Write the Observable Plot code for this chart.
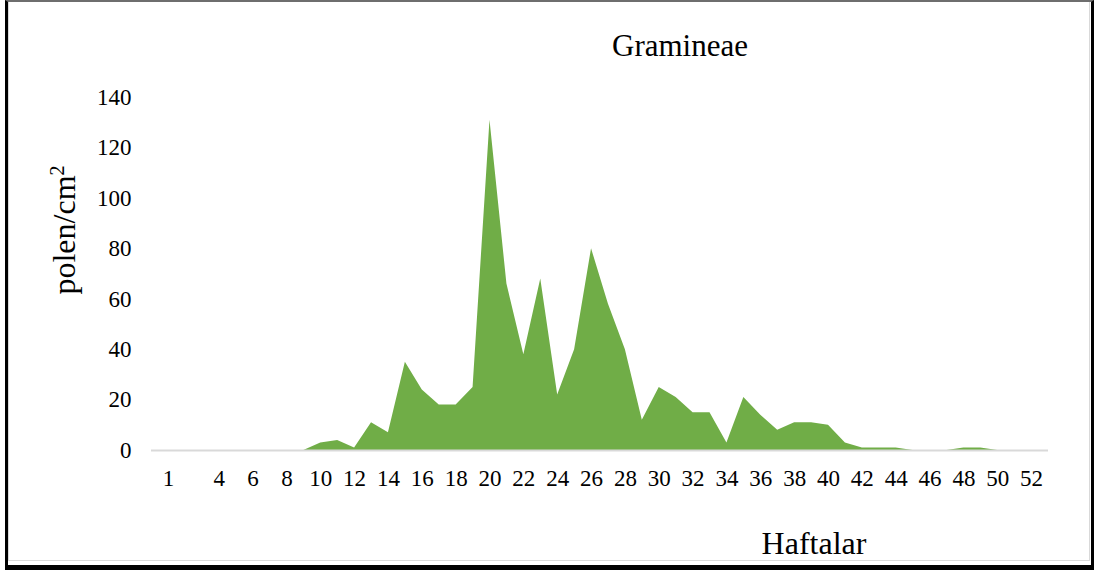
<!DOCTYPE html>
<html>
<head>
<meta charset="utf-8">
<script src="https://cdn.jsdelivr.net/npm/d3@7"></script>
<script src="https://cdn.jsdelivr.net/npm/@observablehq/plot@0.6"></script>
<style>
  body { margin: 0; background: #fff; width: 1094px; height: 572px; position: relative; overflow: hidden;
         font-family: "Liberation Serif", "DejaVu Serif", serif; color: #000; }
  #chart { position: absolute; left: 0; top: 0; }
  .frame { position: absolute; left: 5px; top: 0; width: 1089px; height: 570px; box-sizing: border-box;
           border-top: 2px solid #6e6e6e; border-left: 3px solid #000; border-right: 3px solid #000;
           border-bottom: 5px solid #000; pointer-events: none; z-index: 2; }
  .frame .inner { position: absolute; left: 0; top: 0; right: 1px; bottom: 4px;
                  border: 1px solid #d9d9d9; border-top: none; }
  .lbl { position: absolute; white-space: nowrap; line-height: 1; z-index: 3; }
  #title { left: 680px; top: 30px; font-size: 31px; transform: translateX(-50%); }
  #xlabel { left: 814px; top: 527px; font-size: 32px; transform: translateX(-50%); }
  #ylabel { left: 64px; top: 230px; font-size: 32px; transform: translate(-50%, -50%) rotate(-90deg); }
  #ylabel sup { font-size: 20px; vertical-align: 0.55em; line-height: 0; }
</style>
</head>
<body>
<div id="chart"></div>
<div class="frame"><div class="inner"></div></div>
<div class="lbl" id="title">Gramineae</div>
<div class="lbl" id="ylabel">polen/cm<sup>2</sup></div>
<div class="lbl" id="xlabel">Haftalar</div>
<script>
// Weekly Gramineae pollen counts (polen/cm²)
const weeks = [1, 2, 3, 4, 5, 6, 7, 8, 9, 10, 11, 12, 13, 14, 15, 16, 17, 18, 19, 20, 21, 22, 23, 24, 25, 26,
               27, 28, 29, 30, 31, 32, 33, 34, 35, 36, 37, 38, 39, 40, 41, 42, 43, 44, 45, 46, 47, 48, 49, 50, 51, 52];
const pollen = [0, 0, 0, 0, 0, 0, 0, 0, 0, 3, 4, 1, 11, 7, 35, 24, 18, 18, 25, 131, 66, 38, 68, 22, 40, 80,
                58, 40, 12, 25, 21, 15, 15, 3, 21, 14, 8, 11, 11, 10, 3, 1, 1, 1, 0, 0, 0, 1, 1, 0, 0, 0];
const xTicks = [1, 4, 6, 8, 10, 12, 14, 16, 18, 20, 22, 24, 26, 28, 30, 32, 34, 36, 38, 40, 42, 44, 46, 48, 50, 52];
const yTicks = [0, 20, 40, 60, 80, 100, 120, 140];

const data = weeks.map((w, i) => ({week: w, value: pollen[i]}));

const chart = Plot.plot({
  width: 1094,
  height: 572,
  marginLeft: 151,
  marginRight: 46,
  marginTop: 97,
  marginBottom: 122,
  x: {domain: [0, 53]},
  y: {domain: [0, 140]},
  style: {background: "transparent", fontFamily: "'Liberation Serif', serif", fontSize: "23px", color: "#000"},
  marks: [
    Plot.areaY(data, {x: "week", y: "value", fill: "#70ad47"}),
    Plot.ruleY([0], {stroke: "#d9d9d9", strokeWidth: 2}),
    Plot.axisX({ticks: xTicks, tickSize: 0, tickPadding: 19, label: null, tickFormat: d => String(d)}),
    Plot.axisY({ticks: yTicks, tickSize: 0, tickPadding: 20, label: null, tickFormat: d => String(d)})
  ]
});
document.getElementById("chart").appendChild(chart);
</script>
</body>
</html>
